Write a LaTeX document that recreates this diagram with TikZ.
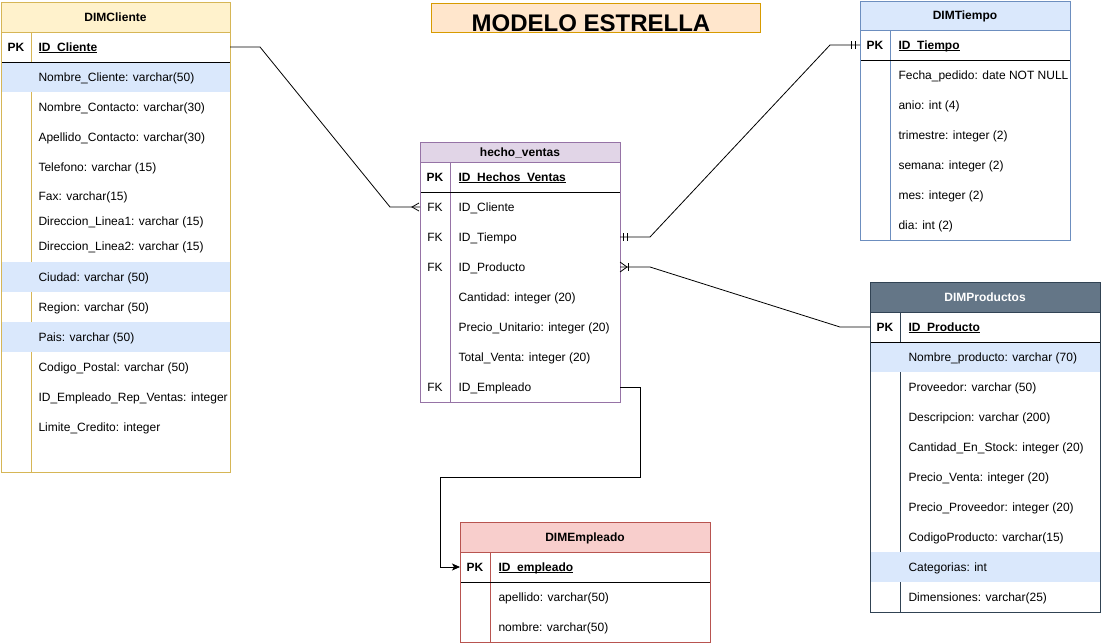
\documentclass[tikz,border=0pt]{standalone}
\usepackage{fontspec}
\setmainfont{Liberation Sans}
\usetikzlibrary{arrows.meta}
\definecolor{cliF}{HTML}{FFF2CC}\definecolor{cliB}{HTML}{D6B656}
\definecolor{hvF}{HTML}{E1D5E7}\definecolor{hvB}{HTML}{9673A6}
\definecolor{tieF}{HTML}{DAE8FC}\definecolor{tieB}{HTML}{6C8EBF}
\definecolor{proF}{HTML}{647687}\definecolor{proB}{HTML}{314354}
\definecolor{empF}{HTML}{F8CECC}\definecolor{empB}{HTML}{B85450}
\definecolor{hlF}{HTML}{DAE8FC}
\definecolor{titF}{HTML}{FFE6CC}\definecolor{titB}{HTML}{D79B00}
\newcommand\pkul[1]{{\setbox0\hbox{#1}\rlap{\rule[-2.2pt]{\wd0}{0.9pt}}\box0}}
\newcommand\fs{\fontsize{12}{14}\selectfont}
\begin{document}
\begin{tikzpicture}[x=1pt,y=-1pt,line width=1pt,
  fld/.style={anchor=base west,inner sep=0pt,font=\fs},
  keytxt/.style={anchor=base,inner sep=0pt,font=\fs},
  pktxt/.style={anchor=base,inner sep=0pt,font=\fs\bfseries},
  hdr/.style={anchor=base,inner sep=0pt,font=\fs\bfseries},
  rowbox/.style={inner sep=0pt,outer sep=0pt,minimum height=30pt,draw=none},
  frame/.style={anchor=north west,inner sep=0pt,outer sep=0pt},
  conn/.style={line width=0.8pt,black}]
\fill[white] (0,0) rectangle (1101,643);
\useasboundingbox (0,0) rectangle (1101,643);

% ---------- title ----------
\node[frame,draw=titB,fill=titF,minimum width=329pt,minimum height=29pt] (title) at (431,3) {};
\node[anchor=base,inner sep=0pt,font=\fontsize{24}{24}\selectfont\bfseries] (titletext) at (591,31) {MODELO ESTRELLA};

% ---------- DIMCliente ----------
\fill[white] (1,2) rectangle (230,472);
\fill[cliF] (1,2) rectangle (230,32);
\draw[cliB] (1,32) -- (230,32);
\draw[cliB] (31,32) -- (31,472);
\fill[hlF] (1,62) rectangle (230,92);
\fill[hlF] (1,262) rectangle (230,292);
\fill[hlF] (1,322) rectangle (230,352);
\draw[black] (1,62) -- (230,62);
\node[hdr] (cliH) at (115.5,21) {DIMCliente};
\node[pktxt] (cliK) at (16,51) {PK};
\node[fld] (cliPKt) at (38,51) {\bfseries\pkul{ID\_Cliente}};
\node[fld] (cli1) at (38,81) {Nombre\_Cliente: varchar(50)};
\node[fld] (cli2) at (38,111) {Nombre\_Contacto: varchar(30)};
\node[fld] (cli3) at (38,141) {Apellido\_Contacto: varchar(30)};
\node[fld] (cli4) at (38,171) {Telefono: varchar (15)};
\node[fld] (cli5) at (38,200) {Fax: varchar(15)};
\node[fld] (cli6) at (38,225) {Direccion\_Linea1: varchar (15)};
\node[fld] (cli7) at (38,250) {Direccion\_Linea2: varchar (15)};
\node[fld] (cli8) at (38,281) {Ciudad: varchar (50)};
\node[fld] (cli9) at (38,311) {Region: varchar (50)};
\node[fld] (cli10) at (38,341) {Pais: varchar (50)};
\node[fld] (cli11) at (38,371) {Codigo\_Postal: varchar (50)};
\node[fld] (cli12) at (38,401) {ID\_Empleado\_Rep\_Ventas: integer};
\node[fld] (cli13) at (38,431) {Limite\_Credito: integer};
\node[frame,draw=cliB,minimum width=229pt,minimum height=470pt] (cli) at (1,2) {};
\node[rowbox,minimum width=229pt] (cliPK) at (115.5,47) {};

% ---------- hecho_ventas ----------
\fill[white] (420,142) rectangle (620,402);
\fill[hvF] (420,142) rectangle (620,162);
\draw[hvB] (420,162) -- (620,162);
\draw[hvB] (450,162) -- (450,402);
\draw[black] (420,192) -- (620,192);
\node[hdr] (hvH) at (520,156) {hecho\_ventas};
\node[pktxt] (hvK) at (435,181) {PK};
\node[fld] (hvPKt) at (458,181) {\bfseries\pkul{ID\_Hechos\_Ventas}};
\node[keytxt] (hvK1) at (435,211) {FK};
\node[fld] (hv1) at (458,211) {ID\_Cliente};
\node[keytxt] (hvK2) at (435,241) {FK};
\node[fld] (hv2) at (458,241) {ID\_Tiempo};
\node[keytxt] (hvK3) at (435,271) {FK};
\node[fld] (hv3) at (458,271) {ID\_Producto};
\node[fld] (hv4) at (458,301) {Cantidad: integer (20)};
\node[fld] (hv5) at (458,331) {Precio\_Unitario: integer (20)};
\node[fld] (hv6) at (458,361) {Total\_Venta: integer (20)};
\node[keytxt] (hvK7) at (435,391) {FK};
\node[fld] (hv7) at (458,391) {ID\_Empleado};
\node[frame,draw=hvB,minimum width=200pt,minimum height=260pt] (hv) at (420,142) {};
\node[rowbox,minimum width=200pt] (hvCli) at (520,207) {};
\node[rowbox,minimum width=200pt] (hvTie) at (520,237) {};
\node[rowbox,minimum width=200pt] (hvPro) at (520,267) {};
\node[rowbox,minimum width=200pt] (hvEmp) at (520,387) {};

% ---------- DIMTiempo ----------
\fill[white] (860,1) rectangle (1070,240);
\fill[tieF] (860,1) rectangle (1070,30);
\draw[tieB] (860,30) -- (1070,30);
\draw[tieB] (890,30) -- (890,240);
\draw[black] (860,60) -- (1070,60);
\node[hdr] (tieH) at (965,19) {DIMTiempo};
\node[pktxt] (tieK) at (875,49) {PK};
\node[fld] (tiePKt) at (898,49) {\bfseries\pkul{ID\_Tiempo}};
\node[fld] (tie1) at (898,79) {Fecha\_pedido: date NOT NULL};
\node[fld] (tie2) at (898,109) {anio: int (4)};
\node[fld] (tie3) at (898,139) {trimestre: integer (2)};
\node[fld] (tie4) at (898,169) {semana: integer (2)};
\node[fld] (tie5) at (898,199) {mes: integer (2)};
\node[fld] (tie6) at (898,229) {dia: int (2)};
\node[frame,draw=tieB,minimum width=210pt,minimum height=239pt] (tie) at (860,1) {};
\node[rowbox,minimum width=210pt] (tiePK) at (965,45) {};

% ---------- DIMProductos ----------
\fill[white] (870,282) rectangle (1100,612);
\fill[proF] (870,282) rectangle (1100,312);
\draw[proB] (870,312) -- (1100,312);
\draw[proB] (900,312) -- (900,612);
\fill[hlF] (870,342) rectangle (1100,372);
\fill[hlF] (870,552) rectangle (1100,582);
\draw[black] (870,342) -- (1100,342);
\node[hdr,text=white] (proH) at (985,301) {DIMProductos};
\node[pktxt] (proK) at (885,331) {PK};
\node[fld] (proPKt) at (908,331) {\bfseries\pkul{ID\_Producto}};
\node[fld] (pro1) at (908,361) {Nombre\_producto: varchar (70)};
\node[fld] (pro2) at (908,391) {Proveedor: varchar (50)};
\node[fld] (pro3) at (908,421) {Descripcion: varchar (200)};
\node[fld] (pro4) at (908,451) {Cantidad\_En\_Stock: integer (20)};
\node[fld] (pro5) at (908,481) {Precio\_Venta: integer (20)};
\node[fld] (pro6) at (908,511) {Precio\_Proveedor: integer (20)};
\node[fld] (pro7) at (908,541) {CodigoProducto: varchar(15)};
\node[fld] (pro8) at (908,571) {Categorias: int};
\node[fld] (pro9) at (908,601) {Dimensiones: varchar(25)};
\node[frame,draw=proB,minimum width=230pt,minimum height=330pt] (pro) at (870,282) {};
\node[rowbox,minimum width=230pt] (proPK) at (985,327) {};

% ---------- DIMEmpleado ----------
\fill[white] (460,522) rectangle (710,642);
\fill[empF] (460,522) rectangle (710,552);
\draw[empB] (460,552) -- (710,552);
\draw[empB] (490,552) -- (490,642);
\draw[black] (460,582) -- (710,582);
\node[hdr] (empH) at (585,541) {DIMEmpleado};
\node[pktxt] (empK) at (475,571) {PK};
\node[fld] (empPKt) at (498,571) {\bfseries\pkul{ID\_empleado}};
\node[fld] (emp1) at (498,601) {apellido: varchar(50)};
\node[fld] (emp2) at (498,631) {nombre: varchar(50)};
\node[frame,draw=empB,minimum width=250pt,minimum height=120pt] (emp) at (460,522) {};
\node[rowbox,minimum width=250pt] (empPK) at (585,567) {};

% ---------- connectors ----------
% DIMCliente -> hecho_ventas (many)
\draw[conn] (cliPK.east) -- ++(30,0) -- ([xshift=-30pt]hvCli.west) -- (hvCli.west);
\draw[conn] ([xshift=-1pt,yshift=4pt]hvCli.west) -- ([xshift=-8pt]hvCli.west) -- ([xshift=-1pt,yshift=-4pt]hvCli.west);
% hecho_ventas -> DIMTiempo (one and only one)
\draw[conn] (hvTie.east) -- ++(30,0) -- ([xshift=-30pt]tiePK.west) -- (tiePK.west);
\draw[conn] ([xshift=3pt,yshift=4pt]hvTie.east) -- ([xshift=3pt,yshift=-4pt]hvTie.east);
\draw[conn] ([xshift=7pt,yshift=4pt]hvTie.east) -- ([xshift=7pt,yshift=-4pt]hvTie.east);
\draw[conn] ([xshift=-9pt,yshift=4pt]tiePK.west) -- ([xshift=-9pt,yshift=-4pt]tiePK.west);
\draw[conn] ([xshift=-5pt,yshift=4pt]tiePK.west) -- ([xshift=-5pt,yshift=-4pt]tiePK.west);
% hecho_ventas -> DIMProductos (one to many)
\draw[conn] (hvPro.east) -- ++(30,0) -- ([xshift=-30pt]proPK.west) -- (proPK.west);
\draw[conn] ([yshift=5pt]hvPro.east) -- ([xshift=7pt]hvPro.east) -- ([yshift=-5pt]hvPro.east);
\draw[conn] ([xshift=8pt,yshift=4pt]hvPro.east) -- ([xshift=8pt,yshift=-4pt]hvPro.east);
% hecho_ventas -> DIMEmpleado (arrow)
\coordinate (bendA) at (640,477);
\coordinate (bendB) at (440,477);
\draw[conn,-{Stealth[length=8pt,width=7pt,inset=2pt]}] (hvEmp.east) -| (bendA) -- (bendB) |- (empPK.west);
\end{tikzpicture}
\end{document}
